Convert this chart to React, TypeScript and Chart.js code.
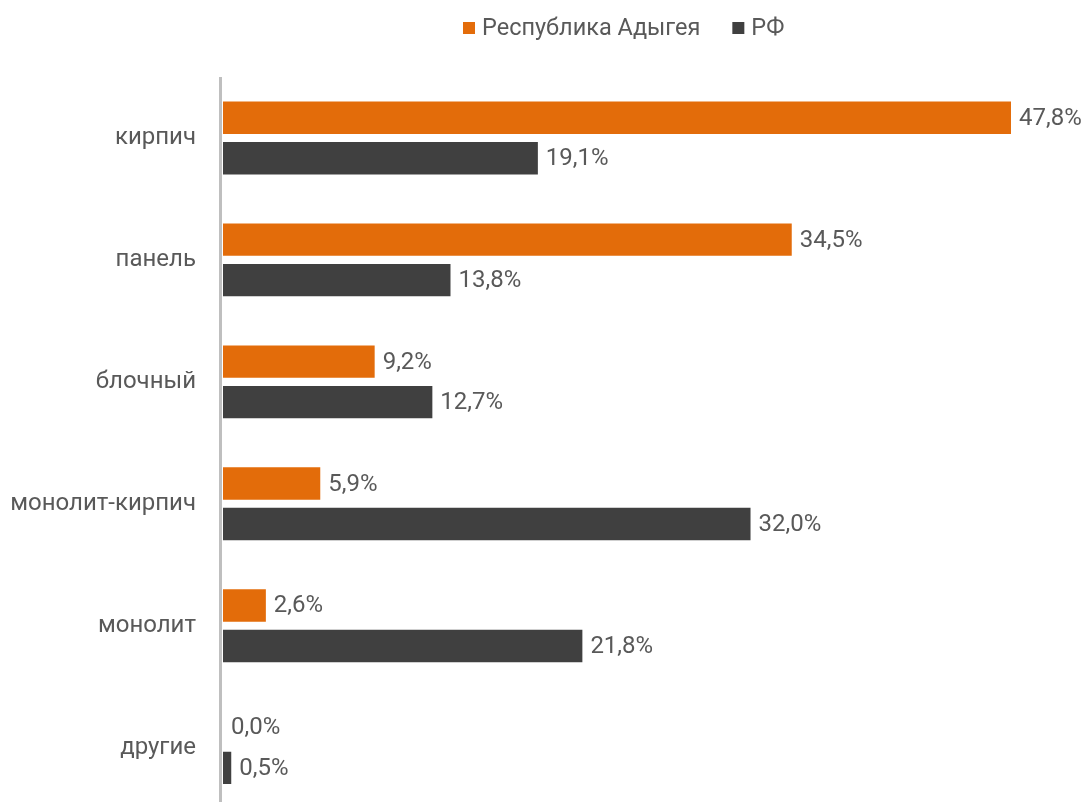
import React, { useEffect, useRef } from "react";
import { Chart, registerables } from "chart.js";

Chart.register(...registerables);

const categories = ["кирпич", "панель", "блочный", "монолит-кирпич", "монолит", "другие"];
const adygeaValues = [47.8, 34.5, 9.2, 5.9, 2.6, 0.0];
const rfValues = [19.1, 13.8, 12.7, 32.0, 21.8, 0.5];
const seriesNames = ["Республика Адыгея", "РФ"];
const seriesColors = ["#E36C0A", "#404040"];

const fmt = (v: number) => v.toFixed(1).replace(".", ",") + "%";
const FONT = "Roboto";

const valueLabels = {
  id: "valueLabels",
  afterDatasetsDraw(chart: any) {
    const ctx = chart.ctx;
    ctx.save();
    ctx.font = `24px ${FONT}`;
    ctx.fillStyle = "#595959";
    ctx.textAlign = "left";
    ctx.textBaseline = "middle";
    chart.data.datasets.forEach((ds: any, di: number) => {
      const meta = chart.getDatasetMeta(di);
      meta.data.forEach((bar: any, i: number) => {
        ctx.fillText(fmt(ds.data[i]), bar.x + 8, bar.y + 1);
      });
    });
    ctx.restore();
  },
};

const axisLine = {
  id: "axisLine",
  afterDatasetsDraw(chart: any) {
    const ctx = chart.ctx;
    const a = chart.chartArea;
    ctx.save();
    ctx.fillStyle = "#BFBFBF";
    ctx.fillRect(a.left - 4, a.top, 3, chart.height - a.top);
    ctx.restore();
  },
};

const customLegend = {
  id: "customLegend",
  afterDraw(chart: any) {
    const ctx = chart.ctx;
    ctx.save();
    ctx.font = `23.5px ${FONT}`;
    ctx.textBaseline = "middle";
    ctx.textAlign = "left";
    let x = 455;
    const cy = 21;
    chart.data.datasets.forEach((ds: any) => {
      ctx.fillStyle = ds.backgroundColor;
      ctx.fillRect(x, cy - 7, 12, 12);
      x += 12 + 7;
      ctx.fillStyle = "#595959";
      ctx.fillText(ds.label, x, cy);
      x += ctx.measureText(ds.label).width + 32;
    });
    ctx.restore();
  },
};

export default function App() {
  const ref = useRef<HTMLCanvasElement>(null);
  useEffect(() => {
    if (!ref.current) return;
    const chart = new Chart(ref.current, {
      type: "bar",
      data: {
        labels: categories,
        datasets: [
          { label: seriesNames[0], data: adygeaValues, backgroundColor: seriesColors[0] },
          { label: seriesNames[1], data: rfValues, backgroundColor: seriesColors[1] },
        ],
      },
      options: {
        indexAxis: "y",
        animation: false,
        responsive: false,
        maintainAspectRatio: false,
        layout: { padding: { top: 69, right: 0, bottom: 0, left: 0 } },
        datasets: { bar: { categoryPercentage: 0.664, barPercentage: 0.8 } },
        scales: {
          x: { display: false, min: 0, max: 52.35 },
          y: {
            grid: { display: false, drawTicks: false },
            border: { display: false },
            ticks: {
              color: "#595959",
              font: { family: FONT, size: 24 },
              padding: 27,
            },
            afterFit(scale: any) {
              scale.width = 215;
            },
          },
        },
        plugins: {
          legend: { display: false },
          tooltip: { enabled: false },
        },
      },
      plugins: [valueLabels, axisLine, customLegend],
    });
    return () => chart.destroy();
  }, []);
  return (
    <div
      style={{
        position: "fixed",
        left: 0,
        top: 0,
        width: 1086,
        height: 802,
        overflow: "hidden",
        background: "#fff",
      }}
    >
      <canvas
        ref={ref}
        width={1078}
        height={842}
        style={{ display: "block", position: "absolute", left: 8, top: 8 }}
      />
    </div>
  );
}
